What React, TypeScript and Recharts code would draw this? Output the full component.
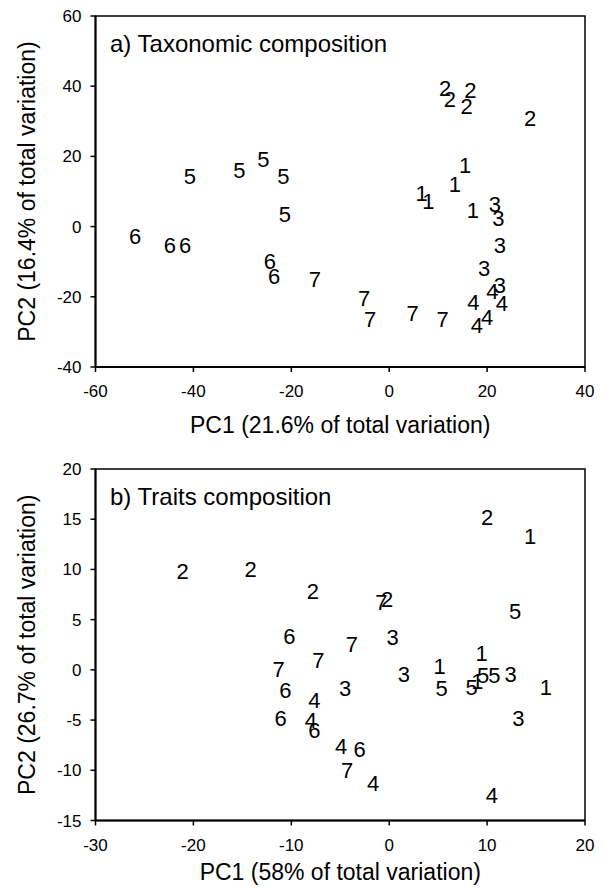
import { ScatterChart, Scatter, XAxis, YAxis, ReferenceArea } from 'recharts';

// a) Taxonomic composition — one array per site group, [PC1, PC2]
const tax1 = [[15.5, 17.4], [13.4, 11.9], [6.6, 9.3], [8.0, 7.1], [17.1, 4.5]];
const tax2 = [[11.4, 39.4], [12.4, 36.1], [16.6, 38.7], [15.8, 34.2], [28.8, 30.9]];
const tax3 = [[21.6, 6.2], [22.3, 2.4], [22.6, -5.5], [19.4, -11.9], [22.6, -16.9]];
const tax4 = [[17.2, -21.7], [21.1, -18.5], [23.0, -22.0], [20.0, -25.8], [17.9, -28.3]];
const tax5 = [[-40.7, 14.4], [-30.6, 16.1], [-25.7, 19.0], [-21.6, 14.4], [-21.3, 3.5]];
const tax6 = [[-51.9, -2.9], [-44.8, -5.5], [-41.7, -5.5], [-24.4, -10.0], [-23.5, -14.1]];
const tax7 = [[-15.2, -15.2], [-5.1, -20.4], [-3.9, -26.6], [4.8, -24.7], [10.9, -26.6]];

// b) Traits composition
const trait1 = [[14.4, 13.3], [9.45, 1.67], [5.16, 0.33], [9.0, -1.2], [16.0, -1.8]];
const trait2 = [[10.0, 15.2], [-21.1, 9.8], [-14.15, 10.0], [-7.8, 7.8], [-0.2, 7.0]];
const trait3 = [[0.36, 3.2], [1.5, -0.47], [-4.49, -1.9], [12.4, -0.5], [13.2, -4.8]];
const trait4 = [[-7.64, -3.07], [-8.0, -5.07], [-4.9, -7.6], [-1.65, -11.3], [10.5, -12.5]];
const trait5 = [[12.85, 5.8], [5.35, -1.9], [8.43, -1.8], [9.6, -0.57], [10.75, -0.57]];
const trait6 = [[-10.2, 3.3], [-10.6, -2.07], [-11.1, -4.8], [-7.64, -6.0], [-3.03, -7.9]];
const trait7 = [[-0.8, 6.7], [-3.8, 2.5], [-7.24, 0.93], [-11.3, 0.0], [-4.29, -10.07]];

const groupLabels = ['1', '2', '3', '4', '5', '6', '7'];

const taxXTicks = [-60, -40, -20, 0, 20, 40];
const taxYTicks = [-40, -20, 0, 20, 40, 60];
const traitXTicks = [-30, -20, -10, 0, 10, 20];
const traitYTicks = [-15, -10, -5, 0, 5, 10, 15, 20];

const FONT = '"Liberation Sans", Arial, Helvetica, sans-serif';

const toData = (pts: number[][]) => pts.map(([x, y]) => ({ x, y }));

const digitShape = (label: string) => (props: any) => (
  <text
    x={props.cx}
    y={props.cy}
    textAnchor="middle"
    dominantBaseline="central"
    fontSize={22}
    fontFamily={FONT}
    fill="#000"
  >
    {label}
  </text>
);

type PanelProps = {
  height: number;
  marginTop: number;
  marginBottom: number;
  xTicks: number[];
  yTicks: number[];
  groups: number[][][];
  title: string;
  xTitle: string;
  yTitle: string;
  xTitleGap: number;
};

function Panel(p: PanelProps) {
  const xDom = [p.xTicks[0], p.xTicks[p.xTicks.length - 1]];
  const yDom = [p.yTicks[0], p.yTicks[p.yTicks.length - 1]];
  const tickStyle = { fontSize: 17, fontFamily: FONT, fill: '#000' };
  return (
    <ScatterChart
      width={603}
      height={p.height}
      margin={{ top: p.marginTop, right: 18, bottom: p.marginBottom, left: 0 }}
    >
      <XAxis
        type="number"
        dataKey="x"
        domain={xDom}
        ticks={p.xTicks}
        interval={0}
        allowDataOverflow
        height={70}
        tick={tickStyle}
        tickSize={5}
        tickMargin={13}
        stroke="#000"
        axisLine={{ stroke: '#000', strokeWidth: 2 }}
        tickLine={{ stroke: '#000', strokeWidth: 1.5 }}
        label={{
          content: (lp: any) => {
            const vb = lp.viewBox || {};
            return (
              <text
                x={vb.x + vb.width / 2}
                y={vb.y + p.xTitleGap}
                textAnchor="middle"
                fontSize={23}
                fontFamily={FONT}
                fill="#000"
              >
                {p.xTitle}
              </text>
            );
          },
        }}
      />
      <YAxis
        type="number"
        dataKey="y"
        domain={yDom}
        ticks={p.yTicks}
        interval={0}
        allowDataOverflow
        width={95.5}
        tick={tickStyle}
        tickSize={5}
        tickMargin={9}
        stroke="#000"
        axisLine={{ stroke: '#000', strokeWidth: 2 }}
        tickLine={{ stroke: '#000', strokeWidth: 1.5 }}
        label={{
          content: (lp: any) => {
            const vb = lp.viewBox || {};
            const cx = 27;
            const cy = vb.y + vb.height / 2;
            return (
              <text
                x={cx}
                y={cy}
                transform={`rotate(-90, ${cx}, ${cy})`}
                textAnchor="middle"
                dominantBaseline="central"
                fontSize={23}
                fontFamily={FONT}
                fill="#000"
              >
                {p.yTitle}
              </text>
            );
          },
        }}
      />
      <ReferenceArea
        x1={xDom[0]}
        x2={xDom[1]}
        y1={yDom[0]}
        y2={yDom[1]}
        fill="none"
        fillOpacity={0}
        stroke="#000"
        strokeWidth={1.5}
        label={{
          content: (lp: any) => {
            const vb = lp.viewBox || {};
            return (
              <text x={vb.x + 14.5} y={vb.y + 36} fontSize={24} fontFamily={FONT} fill="#000">
                {p.title}
              </text>
            );
          },
        }}
      />
      {p.groups.map((pts, i) => (
        <Scatter
          key={groupLabels[i]}
          name={groupLabels[i]}
          data={toData(pts)}
          shape={digitShape(groupLabels[i])}
          isAnimationActive={false}
        />
      ))}
    </ScatterChart>
  );
}

export default function App() {
  return (
    <div style={{ position: 'absolute', left: 0, top: 0, width: 603, height: 888, background: '#fff' }}>
      <Panel
        height={444}
        marginTop={16}
        marginBottom={7}
        xTicks={taxXTicks}
        yTicks={taxYTicks}
        groups={[tax1, tax2, tax3, tax4, tax5, tax6, tax7]}
        title="a) Taxonomic composition"
        xTitle="PC1 (21.6% of total variation)"
        yTitle="PC2 (16.4% of total variation)"
        xTitleGap={66}
      />
      <Panel
        height={444}
        marginTop={25}
        marginBottom={-2.5}
        xTicks={traitXTicks}
        yTicks={traitYTicks}
        groups={[trait1, trait2, trait3, trait4, trait5, trait6, trait7]}
        title="b) Traits composition"
        xTitle="PC1 (58% of total variation)"
        yTitle="PC2 (26.7% of total variation)"
        xTitleGap={59}
      />
    </div>
  );
}
